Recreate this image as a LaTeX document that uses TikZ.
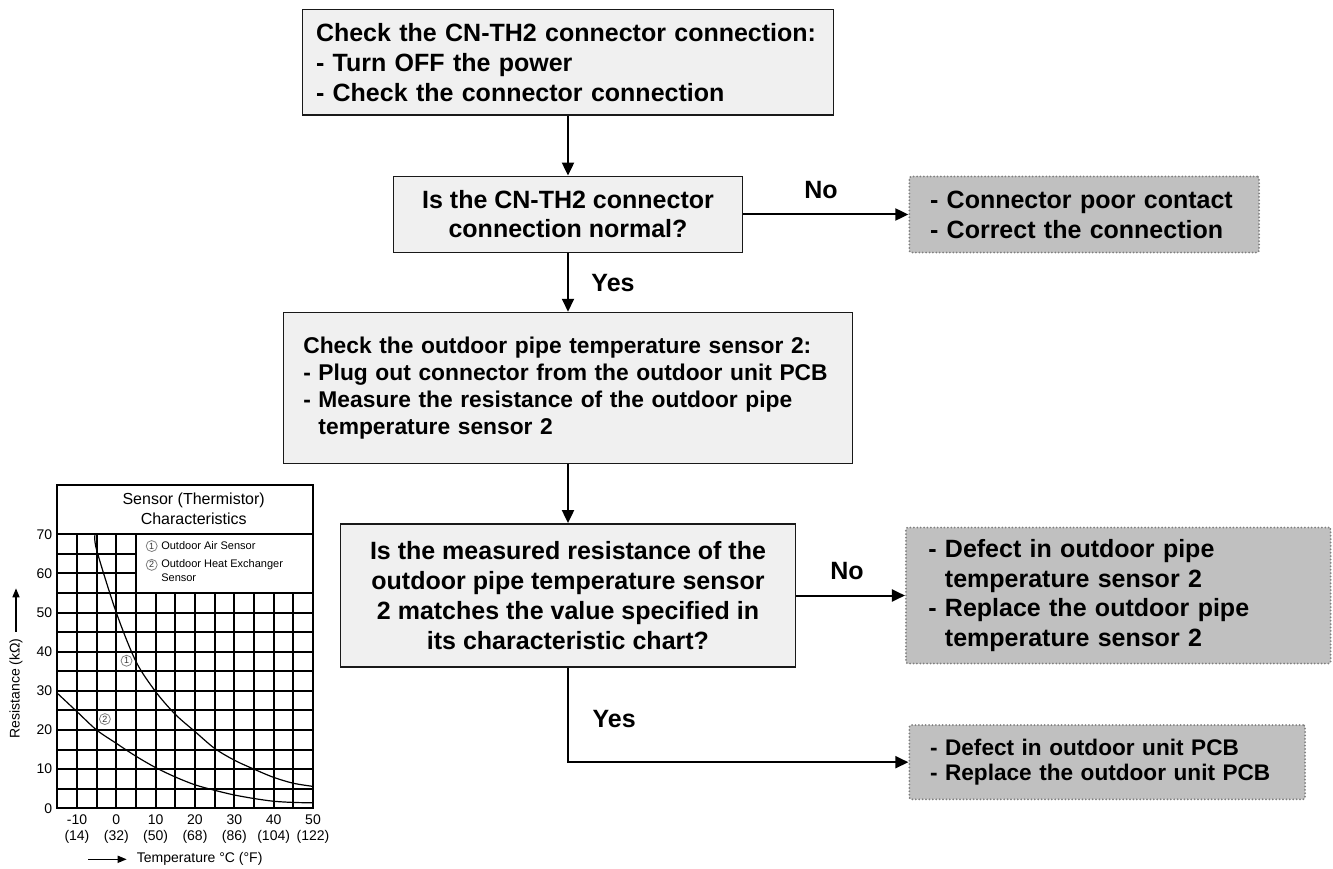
\documentclass[tikz,border=0pt]{standalone}
\usepackage{fontspec}
\setmainfont{Liberation Sans}
\usepackage{tikz}
\usetikzlibrary{arrows.meta,positioning}

\definecolor{boxfill}{HTML}{F0F0F0}
\definecolor{endfill}{HTML}{C0C0C0}
\definecolor{dotgray}{HTML}{7F7F7F}

\newcommand{\fsz}[2]{\fontsize{#1}{#2}\selectfont}

\begin{document}
\begin{tikzpicture}[x=1pt, y=-1pt,
  stepbox/.style={draw=black!90, line width=1.5pt, fill=boxfill, inner sep=0pt, font=\bfseries\fsz{25}{30}},
  endbox/.style={draw=dotgray, fill=endfill, line width=2pt, dash pattern=on 0pt off 3.4pt, line cap=round,
    rounded corners=2pt, inner sep=0pt, align=left, font=\bfseries\fsz{25}{29.4}},
  flow/.style={line width=2pt, -{Triangle[length=13pt,width=12pt]}},
  lbl/.style={font=\bfseries\fsz{25}{30}, inner sep=0pt},
  gridline/.style={line width=2pt},
  curve/.style={line width=1.2pt},
  circnum/.style={circle, draw=black!50, text=black!80, line width=0.8pt, inner sep=0pt, minimum size=11pt, font=\fsz{9}{9}},
  chartfont/.style={font=\fsz{14}{14}, inner sep=0pt},
  axisarrow/.style={line width=1.5pt, -{Triangle[length=9pt,width=7pt]}}
]
\useasboundingbox (0,0) rectangle (1333,869);

% flow chart
\node[stepbox, minimum width=531.3pt, minimum height=105.7pt, text width=504pt, align=left] (check) at (568,62.2)
  {Check the CN-TH2 connector connection:\\- Turn OFF the power\\- Check the connector connection};
\node[stepbox, minimum width=349.4pt, minimum height=76.3pt, align=center, font=\bfseries\fsz{25}{29}] (conn) at (568,214.5)
  {Is the CN-TH2 connector\\connection normal?};
\node[endbox, minimum width=349.7pt, minimum height=76pt, text width=308.3pt, font=\bfseries\fsz{25}{30}] (poor) at (1084.2,214.5)
  {- Connector poor contact\\- Correct the connection};
\node[stepbox, minimum width=569.4pt, minimum height=151pt, text width=529.4pt, align=left, font=\bfseries\fsz{22.8}{27.2}] (meas) at (568,388)
  {Check the outdoor pipe temperature sensor 2:\\- Plug out connector from the outdoor unit PCB\\- Measure the resistance of the outdoor pipe\\\hphantom{- }temperature sensor 2};
\node[stepbox, minimum width=455.3pt, minimum height=143.3pt, align=center] (match) at (568,595.5)
  {Is the measured resistance of the\\outdoor pipe temperature sensor\\2 matches the value specified in\\its characteristic chart?};
\node[endbox, minimum width=424.7pt, minimum height=136pt, text width=380pt] (defsens) at (1118.3,595.5)
  {- Defect in outdoor pipe\\\hphantom{- }temperature sensor 2\\- Replace the outdoor pipe\\\hphantom{- }temperature sensor 2};
\node[endbox, minimum width=395.7pt, minimum height=74.3pt, text width=354.3pt, font=\bfseries\fsz{22.6}{25}] (defpcb) at (1107.2,762.2)
  {- Defect in outdoor unit PCB\\- Replace the outdoor unit PCB};

\node[lbl] (no1) at (821,190) {No};
\node[lbl] (yes1) at (613,283) {Yes};
\node[lbl] (no2) at (847,570.7) {No};
\node[lbl] (yes2) at (614.2,719.3) {Yes};

\draw[flow] (check.south) -- (conn.north);
\draw[flow] (conn.east) -- (poor.west);
\draw[flow] (conn.south) -- (meas.north);
\draw[flow] (meas.south) -- (match.north);
\draw[flow] (match.east) -- (defsens.west);
\draw[flow] (match.south) |- (defpcb.west);

% thermistor chart
\node[align=center, font=\fsz{16}{20}] (title) at (193.7,509) {Sensor (Thermistor)\\Characteristics};
\node[rotate=90, font=\fsz{14}{14}] (ylab) at (16,688.3) {Resistance (kΩ)};
\coordinate (ytip) at (16,588.3);
\draw[axisarrow] ([yshift=3pt]ylab.east) -- (ytip);
\node[chartfont, anchor=west] (xlab) at (136.7,859.3) {Temperature °C (°F)};
\coordinate (xtail) at (88.3,859.3);
\draw[axisarrow] (xtail) -- ([xshift=-10pt]xlab.west);

\begin{scope}[shift={(116.3,808.3)}, x=3.934pt, y=3.914pt]
  \foreach \t in {-10,-5,0,5} \draw[gridline] (\t,0) -- (\t,70);
  \foreach \t in {10,15,...,45} \draw[gridline] (\t,0) -- (\t,55);
  \foreach \r in {5,10,...,55} \draw[gridline] (-15,\r) -- (50,\r);
  \foreach \r in {60,65} \draw[gridline] (-15,\r) -- (5,\r);
  \draw[gridline] (-15,70) -- (50,70);
  \draw[line width=1.8pt] (-15,0) rectangle (50,82.6);

  \draw[curve] plot[smooth] coordinates {(-5.4,70) (-5,66) (0,50) (5,37.5) (10,29.8) (15,24) (20,19.6)
    (25,15.3) (30,12.3) (35,10) (40,7.9) (45,6.4) (50,5.6)};
  \draw[curve] plot[smooth] coordinates {(-15,29.4) (-10,24.7) (-5,20) (0,16.6) (5,13.3) (10,10.4) (15,8)
    (20,6) (25,4.6) (30,3.4) (35,2.5) (40,1.8) (45,1.5) (50,1.4)};

  \node[circnum] (cur1) at (2.6,37.7) {1};
  \node[circnum] (cur2) at (-2.9,22.8) {2};

  \node[circnum] (leg1) at (9,67) {1};
  \node[right=3.5pt of leg1, inner sep=0pt, font=\fsz{11}{11}] (legtxt1) {Outdoor Air Sensor};
  \node[circnum] (leg2) at (9,62.2) {2};
  \node[right=3.5pt of leg2, inner sep=0pt, font=\fsz{11}{11}] (legtxt2) {Outdoor Heat Exchanger};
  \node[anchor=west, inner sep=0pt, font=\fsz{11}{11}] (legtxt3) at ([yshift=-13.3pt]legtxt2.west) {Sensor};

  \foreach \r in {0,10,...,70}
    \node[chartfont, anchor=east] (ytick\r) at ([xshift=-5pt]-15,\r) {\r};
  \foreach \t/\f in {-10/14,0/32,10/50,20/68,30/86,40/104,50/122} {
    \node[chartfont] (xtick\t) at ([yshift=-11.7pt]\t,0) {\t};
    \node[chartfont] (xdeg\t) at ([yshift=-28.4pt]\t,0) {(\f)};
  }
\end{scope}
\end{tikzpicture}
\end{document}
